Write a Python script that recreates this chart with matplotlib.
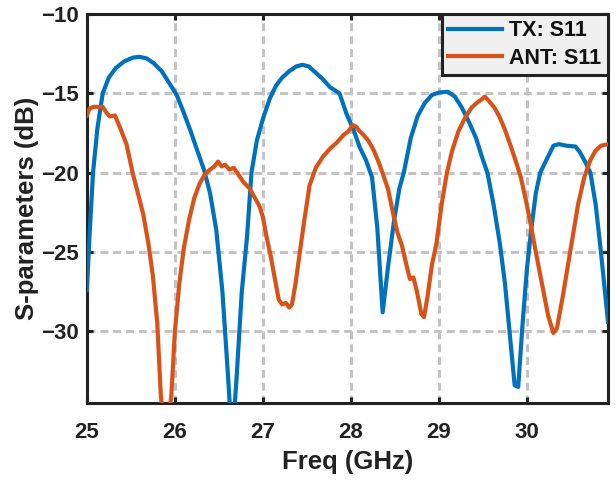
import matplotlib
matplotlib.use('Agg')
import matplotlib.pyplot as plt
import numpy as np

plt.rcParams['font.family'] = ['Liberation Sans', 'DejaVu Sans']
plt.rcParams['font.weight'] = 'bold'

# TX: S11 trace (GHz, dB)
tx_freq = [25.00, 25.03, 25.07, 25.12, 25.18, 25.25, 25.33, 25.42, 25.52, 25.60,
           25.68, 25.76, 25.85, 25.93, 26.02, 26.10, 26.18, 26.26, 26.33, 26.40,
           26.47, 26.54, 26.60, 26.65, 26.70, 26.76, 26.82, 26.87, 26.93, 27.00,
           27.08, 27.15, 27.22, 27.30, 27.38, 27.45, 27.52, 27.60, 27.68, 27.76,
           27.87, 27.95, 28.03, 28.10, 28.17, 28.24, 28.30, 28.36, 28.42, 28.49,
           28.55, 28.60, 28.68, 28.76, 28.84, 28.92, 29.00, 29.10, 29.18, 29.26,
           29.34, 29.42, 29.50, 29.55, 29.62, 29.69, 29.75, 29.81, 29.86, 29.90,
           29.95, 30.00, 30.05, 30.10, 30.15, 30.22, 30.30, 30.36, 30.45, 30.55,
           30.60, 30.66, 30.72, 30.78, 30.84, 30.92]
tx_s11 = [-27.4, -24.0, -20.0, -17.2, -15.0, -14.0, -13.4, -13.0, -12.75, -12.7,
          -12.8, -13.1, -13.6, -14.3, -15.1, -16.2, -17.4, -18.7, -19.8, -21.3,
          -23.6, -27.5, -32.5, -37.0, -33.0, -27.5, -24.0, -20.0, -18.0, -16.6,
          -15.3, -14.5, -14.0, -13.6, -13.3, -13.2, -13.3, -13.7, -14.1, -14.6,
          -15.0, -16.3, -17.3, -18.4, -19.2, -20.3, -23.5, -28.8, -26.0, -23.0,
          -21.0, -20.0, -17.8, -16.4, -15.6, -15.1, -14.95, -14.9, -15.2, -15.9,
          -16.8, -17.8, -19.2, -20.0, -22.0, -24.4, -27.0, -30.5, -33.4, -33.5,
          -29.5, -26.0, -23.5, -21.3, -20.0, -19.2, -18.3, -18.2, -18.3, -18.35,
          -18.7, -19.3, -20.0, -22.0, -25.0, -29.4]

# ANT: S11 trace (GHz, dB)
ant_freq = [25.00, 25.03, 25.08, 25.18, 25.22, 25.26, 25.32, 25.38, 25.45, 25.52,
            25.58, 25.64, 25.70, 25.75, 25.80, 25.84, 25.90, 25.96, 26.00, 26.05,
            26.10, 26.16, 26.22, 26.28, 26.34, 26.40, 26.45, 26.49, 26.53, 26.57,
            26.62, 26.67, 26.72, 26.78, 26.85, 26.90, 26.96, 27.00, 27.04, 27.09,
            27.14, 27.18, 27.22, 27.26, 27.30, 27.33, 27.37, 27.42, 27.47, 27.53,
            27.60, 27.68, 27.76, 27.84, 27.92, 27.97, 28.02, 28.06, 28.10, 28.14,
            28.20, 28.26, 28.32, 28.37, 28.42, 28.48, 28.53, 28.58, 28.63, 28.67,
            28.71, 28.75, 28.80, 28.83, 28.87, 28.92, 28.97, 29.03, 29.09, 29.15,
            29.22, 29.30, 29.37, 29.43, 29.48, 29.52, 29.57, 29.63, 29.69, 29.75,
            29.82, 29.88, 29.93, 29.99, 30.04, 30.10, 30.17, 30.24, 30.30, 30.34,
            30.40, 30.46, 30.52, 30.58, 30.65, 30.72, 30.78, 30.84, 30.92]
ant_s11 = [-16.4, -15.95, -15.85, -15.85, -16.2, -16.45, -16.4, -17.2, -18.2, -20.0,
           -21.3, -22.6, -24.5, -26.5, -29.5, -34.0, -37.0, -34.0, -30.0, -27.0,
           -24.8, -23.0, -21.6, -20.7, -20.1, -19.8, -19.6, -19.3, -19.6, -19.5,
           -19.8, -19.7, -20.1, -20.6, -21.0, -21.5, -22.1, -22.8, -24.0, -25.3,
           -26.8, -28.0, -28.3, -28.2, -28.5, -28.3, -27.0, -25.0, -23.0, -20.8,
           -19.7, -19.0, -18.5, -18.1, -17.6, -17.4, -17.0, -17.1, -17.4, -17.6,
           -18.0, -18.6, -19.4, -20.2, -21.0, -22.6, -23.8, -24.6, -25.8, -26.7,
           -26.6, -27.5, -28.9, -29.1, -27.8, -25.8, -24.5, -22.0, -20.0, -18.6,
           -17.4, -16.5, -15.9, -15.6, -15.4, -15.2, -15.5, -15.9, -16.5, -17.3,
           -18.4, -19.4, -20.3, -21.8, -23.2, -25.0, -27.0, -29.0, -30.1, -29.8,
           -28.0, -26.0, -24.0, -22.0, -20.3, -19.2, -18.6, -18.3, -18.2]

xticks = [25, 26, 27, 28, 29, 30]
yticks = [-30, -25, -20, -15, -10]

fig = plt.figure(figsize=(6.16, 4.83), dpi=100)
ax = fig.add_axes([0.141, 0.166, 0.846, 0.805])

ax.plot(tx_freq, tx_s11, color='#0072BD', lw=3.0, label='TX: S11', zorder=3)
ax.plot(ant_freq, ant_s11, color='#D95319', lw=3.0, label='ANT: S11', zorder=3)

ax.set_xlim(25, 30.92)
ax.set_ylim(-34.5, -10)
ax.set_xticks(xticks)
ax.set_yticks(yticks)
ax.grid(True, color='#c4c4c4', lw=2.2, linestyle=(0, (2.6, 1.6)))
ax.set_axisbelow(True)

for s in ax.spines.values():
    s.set_linewidth(2.2)
    s.set_color('#222222')
ax.tick_params(direction='in', top=True, right=True, width=2.2, length=4,
               labelsize=16, color='#222222')
ax.tick_params(axis='x', pad=14)
ax.tick_params(axis='y', pad=6)
for lab in ax.get_xticklabels() + ax.get_yticklabels():
    lab.set_fontweight('bold')
    lab.set_color('#222222')

ax.set_xlabel('Freq (GHz)', fontsize=18.5, fontweight='bold', labelpad=5, color='#222222')
ax.set_ylabel('S-parameters (dB)', fontsize=18.5, fontweight='bold', labelpad=1, color='#222222')

leg = ax.legend(loc='upper right', borderaxespad=0, fancybox=False, framealpha=1,
                facecolor='#f0f0f0', edgecolor='#222222', handlelength=2.5,
                fontsize=15.5, borderpad=0.3, labelspacing=0.3, handletextpad=0.35)
leg.get_frame().set_linewidth(2.2)
for t in leg.get_texts():
    t.set_fontweight('bold')
    t.set_color('#111111')

plt.savefig('out.png', dpi=100)
plt.close()
